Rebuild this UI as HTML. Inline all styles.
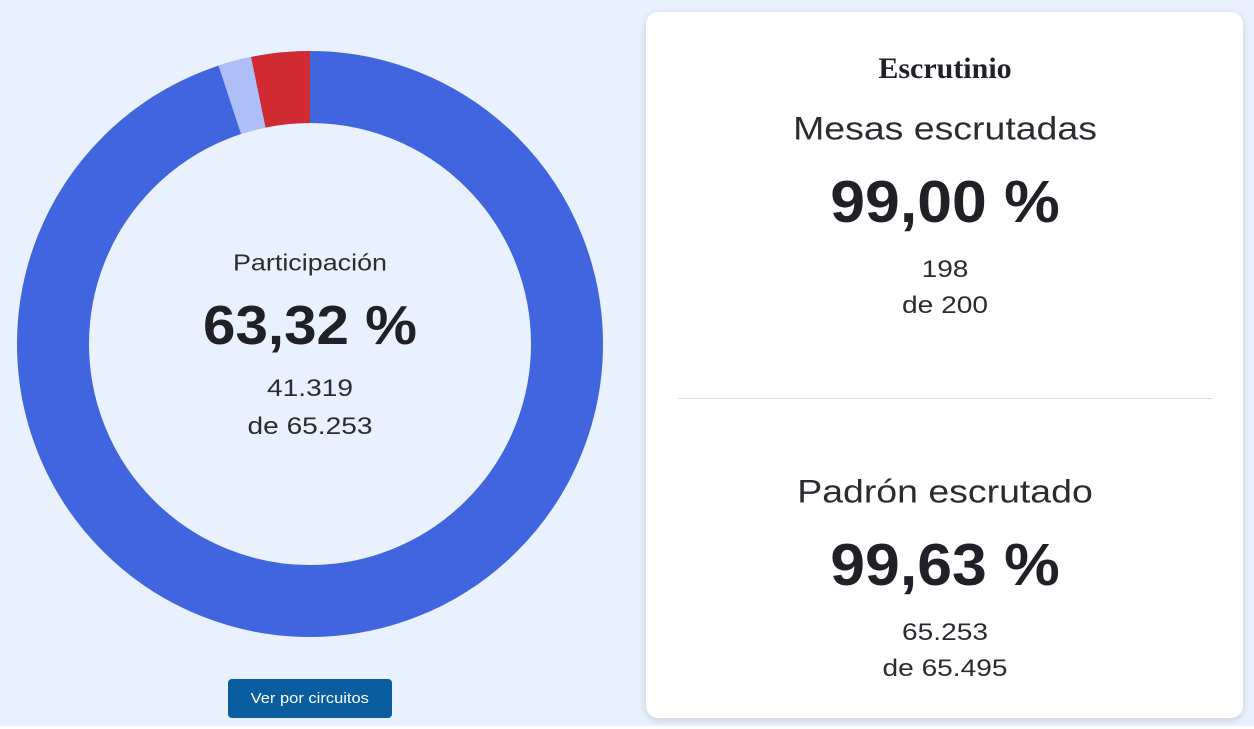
<!DOCTYPE html>
<html><head><meta charset="utf-8"><style>
html,body{margin:0;padding:0}
body{width:1254px;height:729px;background:#fff;position:relative;overflow:hidden;font-family:"Liberation Sans",sans-serif;color:#1f2126}
.bg{position:absolute;left:0;top:0;width:1254px;height:726px;background:#e8f1fd}
.t{position:absolute;white-space:nowrap;transform:translate(-50%,-50%) scaleX(1.17)}
.b{transform:translate(-50%,-50%) scaleX(1.06)}
.l{color:#2a2c31}
.card{position:absolute;left:646px;top:12px;width:597px;height:706px;background:#fff;border-radius:12px;box-shadow:0 2px 8px rgba(0,0,0,.15)}
.btn{position:absolute;left:228px;top:679px;width:164px;height:39px;background:#0a5d9f;border-radius:4px;color:#fff;font-size:15px;text-align:center;line-height:39px}
.btn span{display:inline-block;transform:scaleX(1.1)}
</style></head><body>
<div class="bg"></div>
<svg style="position:absolute;left:0;top:0" width="1254" height="729">
<circle cx="310" cy="344" r="257" fill="none" stroke="#4065df" stroke-width="72"/>
<path d="M218.5,65.6 A293,293 0 0 1 251.1,57 L265.6,127.5 A221,221 0 0 0 241,134 Z" fill="#aebff8"/>
<path d="M251.1,57 A293,293 0 0 1 310,51 L310,123 A221,221 0 0 0 265.6,127.5 Z" fill="#cf2b31"/>
</svg>
<div class="t l" style="left:310px;top:263px;font-size:23px">Participación</div>
<div class="t b" style="left:310px;top:325px;font-size:55px;font-weight:bold">63,32 %</div>
<div class="t l" style="left:310px;top:389px;font-size:24px">41.319</div>
<div class="t l" style="left:310px;top:427px;font-size:24px">de 65.253</div>
<div class="btn"><span>Ver por circuitos</span></div>
<div class="card"></div>
<div class="t" style="left:945px;top:69px;font-size:30px;font-weight:bold;font-family:'Liberation Serif',serif;transform:translate(-50%,-50%)">Escrutinio</div>
<div class="t l" style="left:945px;top:129px;font-size:32px">Mesas escrutadas</div>
<div class="t b" style="left:945px;top:202px;font-size:59px;font-weight:bold">99,00 %</div>
<div class="t l" style="left:945px;top:270px;font-size:24px">198</div>
<div class="t l" style="left:945px;top:306px;font-size:24px">de 200</div>
<div style="position:absolute;left:678px;top:398px;width:534px;height:1px;background:#ddd"></div>
<div class="t l" style="left:945px;top:492px;font-size:32px">Padrón escrutado</div>
<div class="t b" style="left:945px;top:565px;font-size:59px;font-weight:bold">99,63 %</div>
<div class="t l" style="left:945px;top:633px;font-size:24px">65.253</div>
<div class="t l" style="left:945px;top:669px;font-size:24px">de 65.495</div>
</body></html>
